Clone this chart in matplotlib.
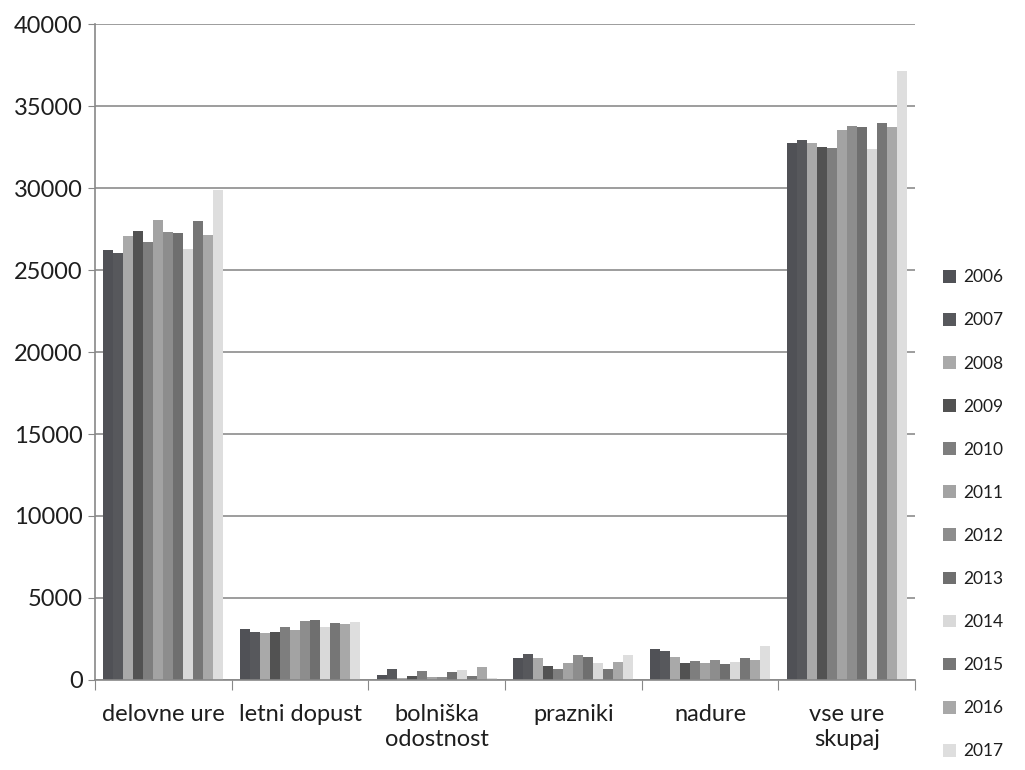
import numpy as np
import matplotlib
matplotlib.use('Agg')
import matplotlib.pyplot as plt
from matplotlib.patches import Patch

plt.rcParams['font.family'] = ['Lato', 'DejaVu Sans']
plt.rcParams['text.color'] = '#1e1e1e'

categories = ['delovne ure', 'letni dopust', 'bolniška\nodostnost', 'prazniki', 'nadure', 'vse ure\nskupaj']
years = ['2006', '2007', '2008', '2009', '2010', '2011', '2012', '2013', '2014', '2015', '2016', '2017']

# one list per year, values for each category
v2006 = [26250, 3090, 285, 1320, 1890, 32750]
v2007 = [26050, 2930, 650, 1600, 1770, 32950]
v2008 = [27050, 2850, 140, 1320, 1380, 32750]
v2009 = [27400, 2930, 245, 855, 1015, 32500]
v2010 = [26730, 3230, 550, 670, 1160, 32450]
v2011 = [28050, 3030, 160, 1015, 1057, 33550]
v2012 = [27300, 3600, 160, 1545, 1240, 33800]
v2013 = [27230, 3680, 470, 1400, 955, 33750]
v2014 = [26260, 3250, 590, 1015, 1120, 32400]
v2015 = [27990, 3480, 245, 670, 1320, 33950]
v2016 = [27130, 3410, 790, 1077, 1240, 33750]
v2017 = [29850, 3540, 120, 1525, 2070, 37150]
values = [v2006, v2007, v2008, v2009, v2010, v2011, v2012, v2013, v2014, v2015, v2016, v2017]

colors = ['#505156', '#57585c', '#a9a9a9', '#525252', '#7e7e7e', '#a3a3a3',
          '#8d8d8d', '#6f6f6f', '#d9d9d9', '#767676', '#a8a8a8', '#dedede']

fig = plt.figure(figsize=(10.25, 7.7), dpi=100)
ax = fig.add_axes([0.0927, 0.1169, 0.8, 0.8519])

x = np.arange(len(categories))
n = len(years)
w = 0.876 / n
for i, (yr, vals) in enumerate(zip(years, values)):
    ax.bar(x - 0.438 + w * (i + 0.5), vals, width=w, color=colors[i], zorder=2)

ax.set_xlim(-0.5, len(categories) - 0.5)
ax.set_ylim(0, 40000)
ax.set_yticks(np.arange(0, 40001, 5000))
ax.tick_params(axis='y', labelsize=17, length=5, color='#888888', pad=4,
               labelcolor='#1e1e1e')
ax.grid(axis='y', color='#8c8c8c', linewidth=1.2, zorder=0)

ax.set_xticks(np.arange(-0.5, len(categories), 1))
ax.set_xticklabels([])
ax.tick_params(axis='x', which='major', length=7, color='#888888')
ax.set_xticks(x, minor=True)
ax.set_xticklabels(categories, minor=True, fontsize=17, linespacing=1.25)
ax.tick_params(axis='x', which='minor', length=0, pad=17, labelcolor='#1e1e1e')

for s in ['top', 'right']:
    ax.spines[s].set_visible(False)
for s in ['left', 'bottom']:
    ax.spines[s].set_color('#888888')
    ax.spines[s].set_linewidth(1.2)

handles = [Patch(facecolor=c, edgecolor='none') for c in colors]
fig.legend(handles, years, loc='center left', bbox_to_anchor=(0.905, 0.332),
           frameon=False, fontsize=12.5, handlelength=0.75, handleheight=0.75,
           handletextpad=0.4, labelspacing=1.56)

fig.savefig('out.png', dpi=100)
